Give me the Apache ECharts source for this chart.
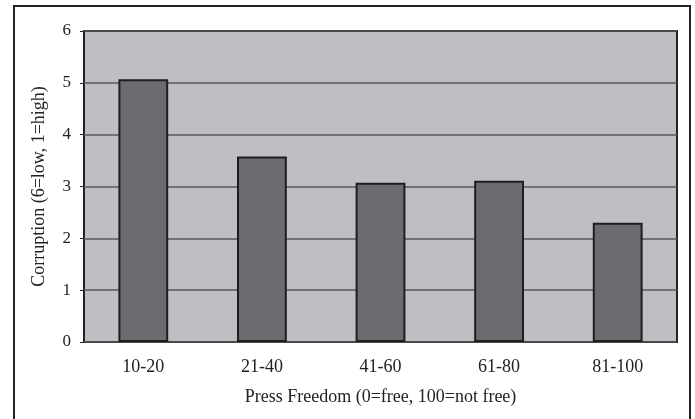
<!DOCTYPE html>
<html><head><meta charset="utf-8">
<script src="https://cdn.jsdelivr.net/npm/echarts@6/dist/echarts.min.js"></script>
<style>html,body{margin:0;padding:0;background:#fff}#c{width:695px;height:419px}</style>
</head><body><div id="c"></div>
<script>
const categories = ["10-20","21-40","41-60","61-80","81-100"];
const values = [5.07, 3.58, 3.07, 3.11, 2.30];
const yTicks = [0,1,2,3,4,5,6];
const xTitle = "Press Freedom (0=free, 100=not free)";
const yTitle = "Corruption (6=low, 1=high)";

const font = "'Liberation Serif', 'DejaVu Serif', serif";
const chart = echarts.init(document.getElementById('c'), null, {renderer:'canvas'});
chart.setOption({
  animation:false,
  graphic:[{type:'rect', shape:{x:14,y:6,width:676,height:430}, style:{fill:'none', stroke:'#222', lineWidth:2}, z:-1}],
  grid:{left:84, top:31, right:18, bottom:77, show:true, backgroundColor:'#bebfc3', borderColor:'#222', borderWidth:2},
  xAxis:{type:'category', data:categories, name:xTitle, nameLocation:'middle', nameGap:46,
    nameTextStyle:{fontFamily:font, fontSize:18, color:'#222'},
    axisLine:{show:false}, axisTick:{show:false},
    axisLabel:{fontFamily:font, fontSize:18, color:'#222', margin:16}},
  yAxis:{type:'value', min:0, max:6, interval:1, name:yTitle, nameLocation:'middle', nameGap:36,
    nameTextStyle:{fontFamily:font, fontSize:18, color:'#222'},
    axisLine:{show:false}, axisTick:{show:true, length:4, lineStyle:{color:'#222'}},
    axisLabel:{fontFamily:font, fontSize:17, color:'#222', margin:13, formatter:v=>yTicks.includes(v)?String(v):''},
    splitLine:{show:true, lineStyle:{color:'#58585a', width:1.5}}},
  series:[{type:'bar', data:values, barWidth:'42%',
    itemStyle:{color:'#6b6c70', borderColor:'#1e1e1e', borderWidth:2}}]
});
</script></body></html>
